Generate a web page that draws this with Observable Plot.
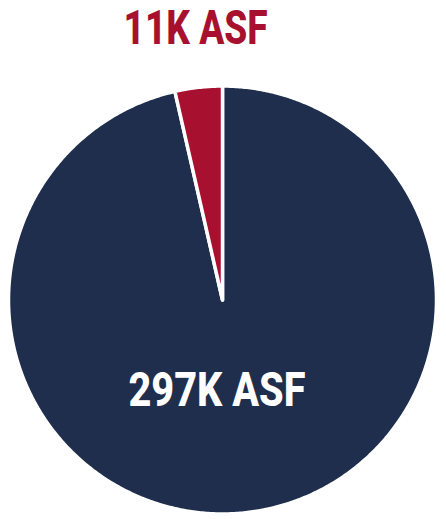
<!DOCTYPE html>
<html>
<head>
<meta charset="utf-8">
<script src="https://cdn.jsdelivr.net/npm/d3@7"></script>
<script src="https://cdn.jsdelivr.net/npm/@observablehq/plot@0.6"></script>
<style>
  html, body { margin: 0; padding: 0; background: #ffffff; }
  #chart svg { display: block; }
</style>
</head>
<body>
<div id="chart"></div>
<script>
// Data
const categories = ["297K ASF", "11K ASF"];
const values = [297, 11];
const colors = ["#1f2e4c", "#a8102f"];
const textColors = ["#ffffff", "#a8102f"];
// label anchor positions (unit-circle coords) and fitted widths
const labelX = [-0.026, -0.126];
const labelY = [-0.423, 1.271];
const labelWidth = [177, 144];
const labelSize = [48, 49];

// Build slices with d3.pie (clockwise from 12 o'clock)
const pie = d3.pie().sort(null).value(d => d.value);
const arcs = pie(categories.map((c, i) => ({cat: c, value: values[i], color: colors[i]})));

const polys = [];
for (const a of arcs) {
  const n = Math.max(2, Math.ceil((a.endAngle - a.startAngle) / (Math.PI / 360)));
  polys.push({cat: a.data.cat, color: a.data.color, x: 0, y: 0});
  for (let k = 0; k <= n; ++k) {
    const t = a.startAngle + (a.endAngle - a.startAngle) * k / n;
    polys.push({cat: a.data.cat, color: a.data.color, x: Math.sin(t), y: Math.cos(t)});
  }
  polys.push({cat: a.data.cat, color: a.data.color, x: 0, y: 0});
}

const labels = categories.map((c, i) => ({text: c, x: labelX[i], y: labelY[i], color: textColors[i], size: labelSize[i], w: labelWidth[i]}));

const cx = 222, cy = 299.5, R = 214;
const plot = Plot.plot({
  width: 446,
  height: 519,
  margin: 0,
  style: {background: "#ffffff", fontFamily: "Roboto, 'Noto Sans', sans-serif"},
  x: {domain: [-1, 1], range: [cx - R, cx + R], axis: null},
  y: {domain: [-1, 1], range: [cy + R, cy - R], axis: null},
  marks: [
    Plot.line(polys, {x: "x", y: "y", z: "cat", fill: "color", stroke: "#ffffff", strokeWidth: 3.5, strokeLinejoin: "round", curve: "linear"}),
    ...labels.map(l => Plot.text([l], {x: "x", y: "y", text: "text", fill: l.color, fontSize: l.size, fontWeight: 800, lineAnchor: "middle", textAnchor: "middle"}))
  ]
});

// condense labels to match the narrow display face
const texts = plot.querySelectorAll("text");
texts.forEach(t => {
  const lbl = labels.find(l => l.text === t.textContent);
  if (lbl) {
    t.setAttribute("textLength", lbl.w);
    t.setAttribute("lengthAdjust", "spacingAndGlyphs");
  }
});
document.getElementById("chart").appendChild(plot);
</script>
</body>
</html>
